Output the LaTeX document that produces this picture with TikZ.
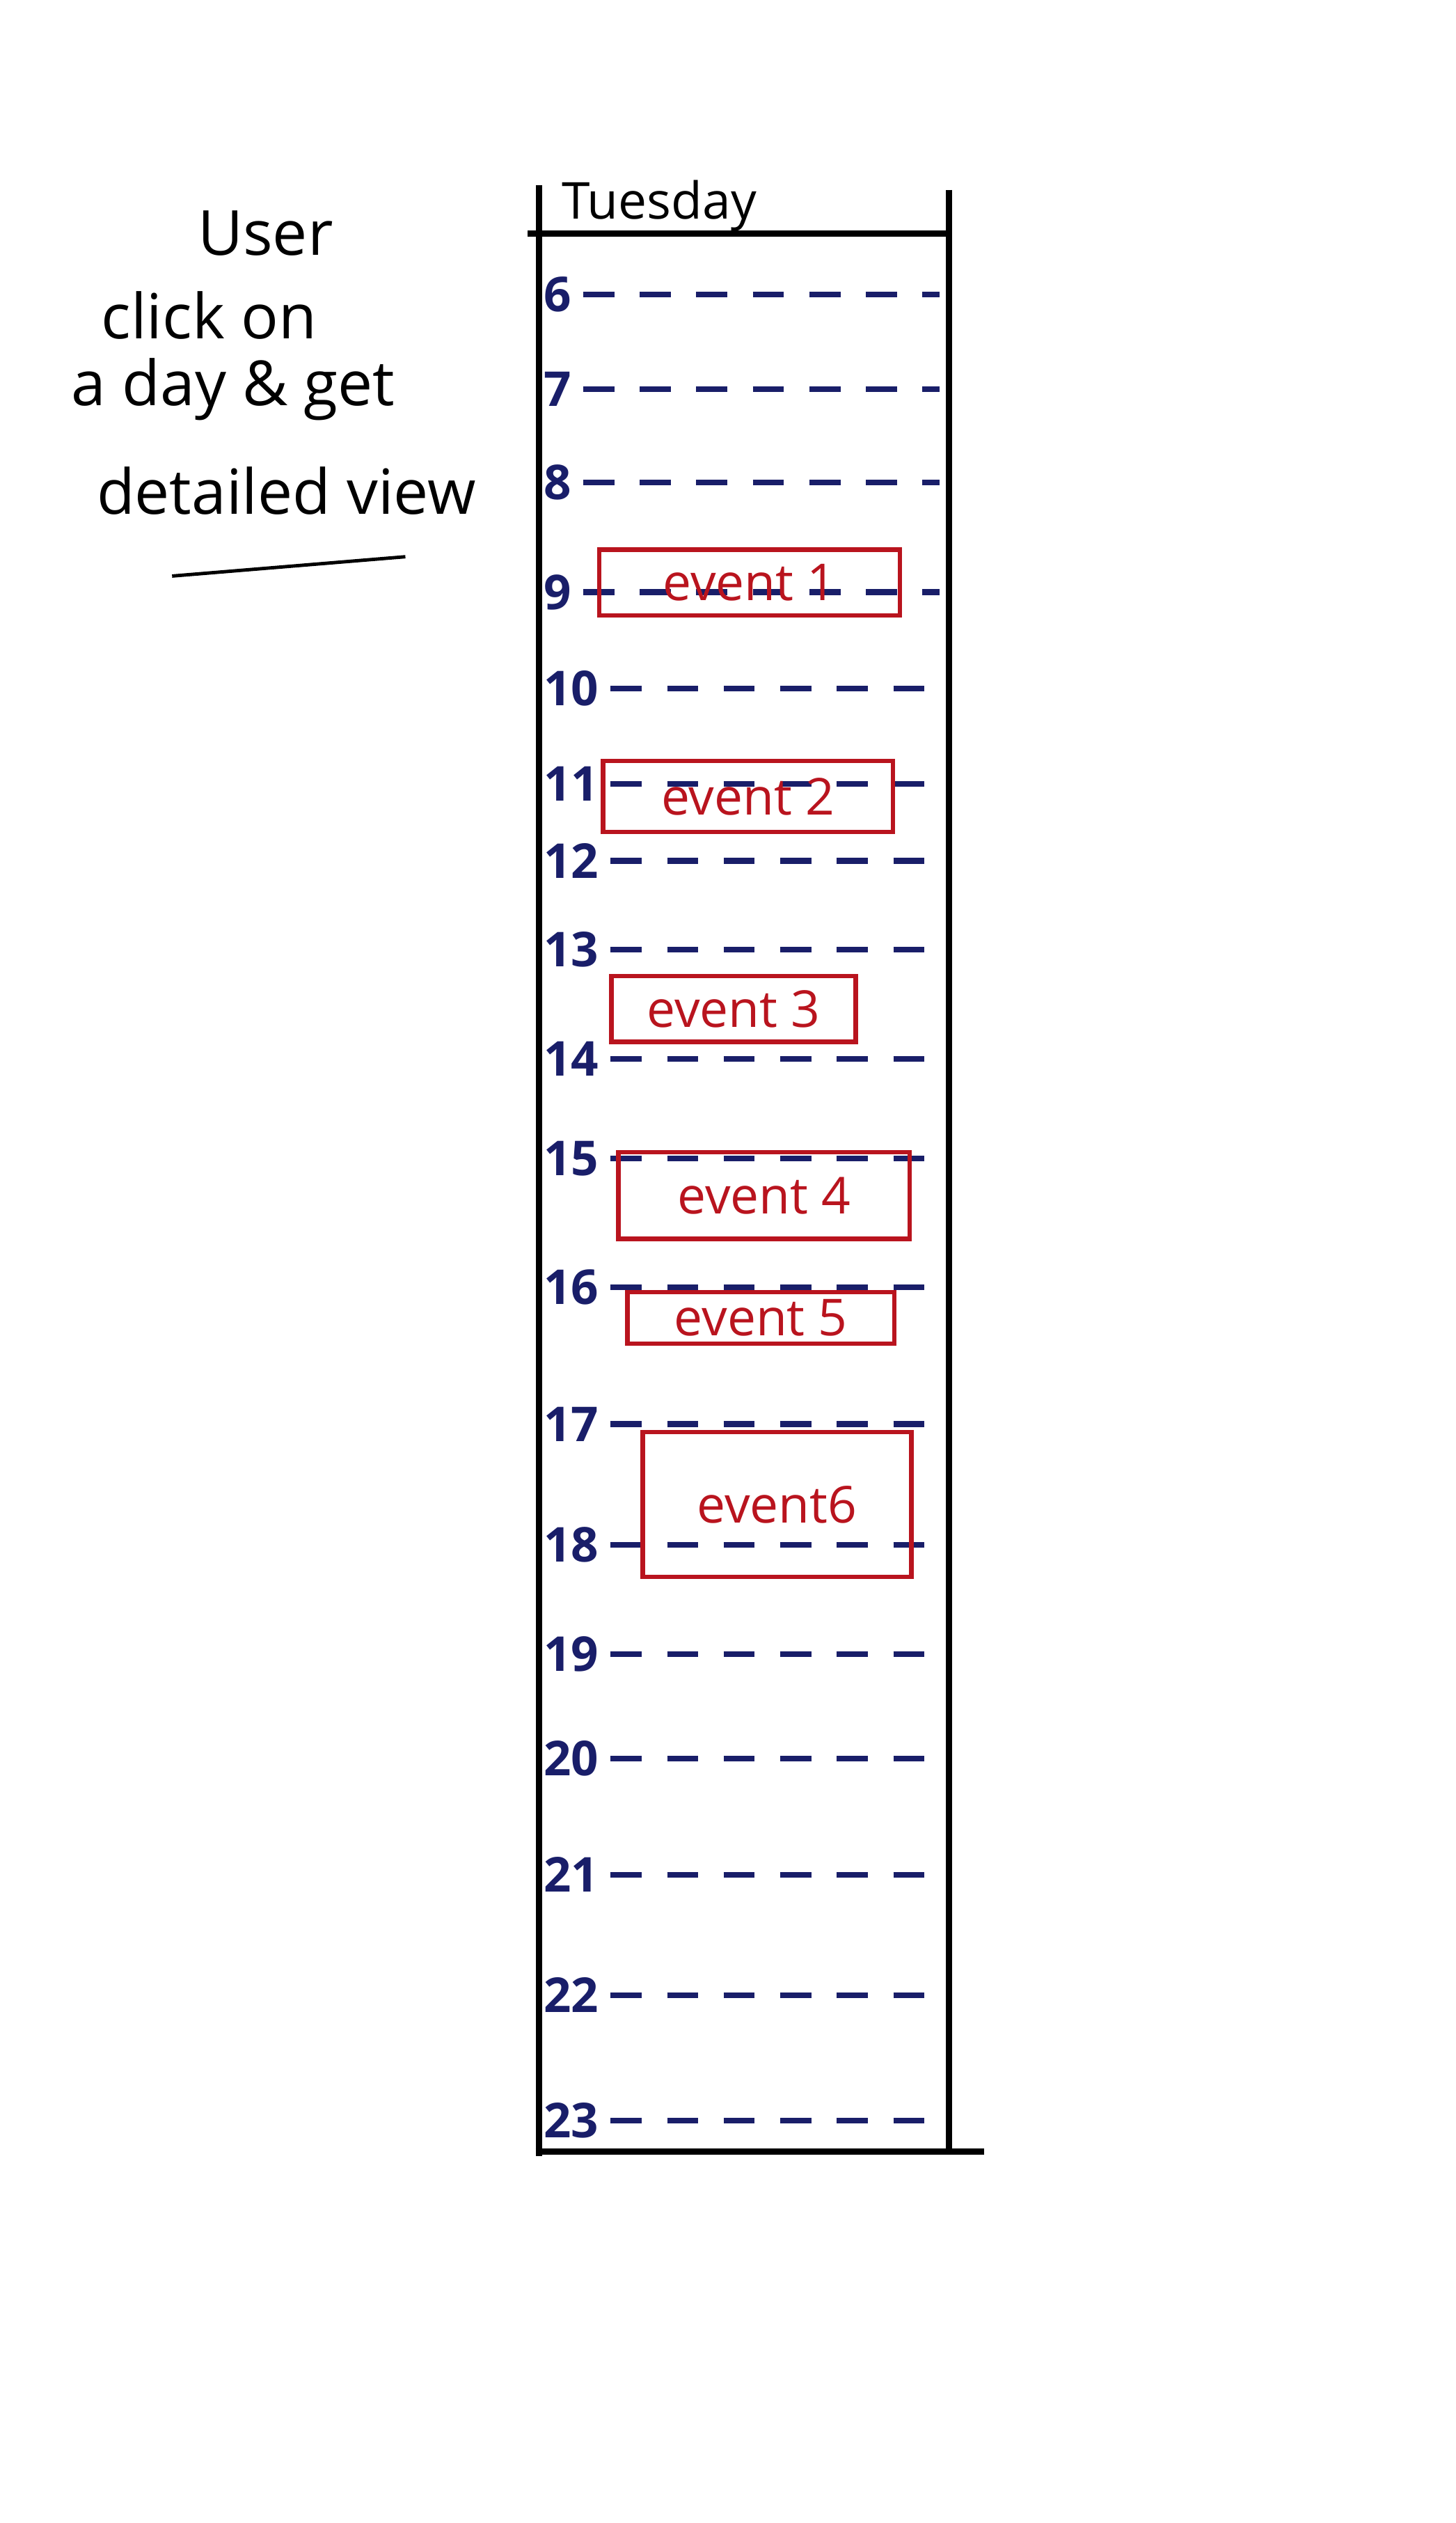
\documentclass[tikz,border=0pt]{standalone}
\usepackage{fontspec}
\setmainfont{Open Sans}
\definecolor{encre}{RGB}{25,30,105}
\definecolor{rouge}{RGB}{185,20,30}

\begin{document}
\begin{tikzpicture}[x=0.2mm, y=-0.2mm,
    heure/.style={anchor=west, inner sep=1pt, text=encre, font=\fontsize{17}{19}\selectfont\bfseries},
    pointille/.style={encre, line width=2pt, dash pattern=on 11pt off 9pt, shorten <=3pt},
    evenement/.style={draw=rouge, line width=1.6pt, text=rouge, inner sep=1pt, font=\fontsize{18}{20}\selectfont},
    note/.style={font=\fontsize{22}{24}\selectfont},
    trait/.style={line width=2.2pt}]
    \useasboundingbox (0,0) rectangle (905,1568);
    % Texte à gauche
    \node[note] (n1) at (165,145) {User};
    \node[note] (n2) at (130,196) {click on};
    \node[note] (n3) at (145,242) {a day \& get};
    \node[note] (n4) at (178,305) {detailed view};
    \draw[line width=1.2pt] (107,358) -- (252,346);
    % Colonne du jour
    \draw[trait] (335,115) -- (335,1340);
    \draw[trait] (590,118) -- (590,1337);
    \draw[trait] (328,145) -- (590,145);
    \draw[trait] (333,1337) -- (612,1337);
    \node[font=\fontsize{18}{20}\selectfont, anchor=west] (jour) at (343,128) {Tuesday};
    % Heures et lignes pointillées
    \foreach \h/\y in {6/183,7/242,8/300,9/368,10/428,11/487,12/535,13/590,14/658,
                       15/720,16/800,17/885,18/960,19/1028,20/1093,21/1165,22/1240,23/1318} {
        \node[heure] (h\h) at (336,\y) {\h};
        \coordinate (f\h) at (584,\y);
        \draw[pointille] (h\h.east) -- (f\h);
    }
    % Evénements
    \node[evenement, minimum width=37.4mm, minimum height=8.2mm] (ev1) at (466,362) {event 1};
    \node[evenement, minimum width=36mm, minimum height=8.8mm] (ev2) at (465,495) {event 2};
    \node[evenement, minimum width=30.4mm, minimum height=8.2mm] (ev3) at (456,627) {event 3};
    \node[evenement, minimum width=36.2mm, minimum height=10.8mm] (ev4) at (475,743) {event 4};
    \node[evenement, minimum width=33.2mm, minimum height=6.4mm] (ev5) at (473,819) {event 5};
    \node[evenement, minimum width=33.4mm, minimum height=18mm] (ev6) at (483,935) {event6};
\end{tikzpicture}
\end{document}
